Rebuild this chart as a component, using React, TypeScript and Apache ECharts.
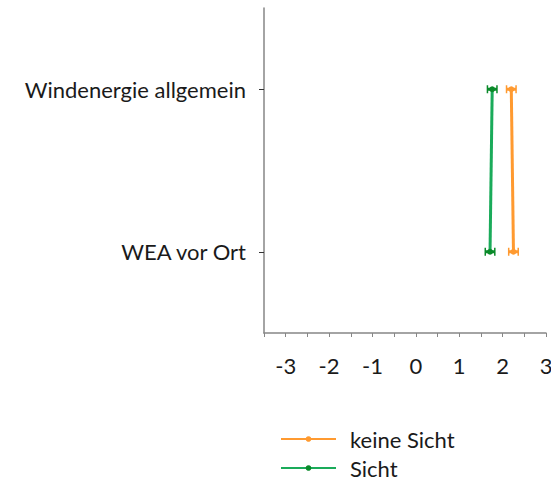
import React, { useEffect, useRef } from "react";
import * as echarts from "echarts";

const categories = ["WEA vor Ort", "Windenergie allgemein"];
const keineSicht = [2.25, 2.2];
const sicht = [1.71, 1.76];
const keineSichtErr = [0.11, 0.11];
const sichtErr = [0.11, 0.11];
const seriesNames = ["keine Sicht", "Sicht"];
const xTicks = { min: -3.5, max: 3, interval: 0.5 };

const FONT = "Lato";
const FS = 22;

function errorSeries(name: string, values: number[], errs: number[], color: string) {
  return {
    type: "custom",
    name,
    z: 5,
    renderItem: (params: any, api: any) => {
      const yi = api.value(0);
      const lo = api.coord([api.value(1), yi]);
      const hi = api.coord([api.value(2), yi]);
      const h = 4;
      const style = { stroke: color, lineWidth: 1.5 };
      return {
        type: "group",
        children: [
          { type: "line", shape: { x1: lo[0], y1: lo[1], x2: hi[0], y2: hi[1] }, style: { ...style, lineWidth: 3 } },
          { type: "line", shape: { x1: lo[0], y1: lo[1] - h, x2: lo[0], y2: lo[1] + h }, style },
          { type: "line", shape: { x1: hi[0], y1: hi[1] - h, x2: hi[0], y2: hi[1] + h }, style },
        ],
      };
    },
    encode: { x: [1, 2], y: 0 },
    data: values.map((v, i) => [i, v - errs[i], v + errs[i]]),
  };
}

export default function App() {
  const ref = useRef<HTMLDivElement>(null);
  useEffect(() => {
    const chart = echarts.init(ref.current!, null, { renderer: "svg" });
    const axisColor = "#868686";
    const legendBase = {
      orient: "vertical",
      left: 275,
      itemWidth: 55,
      itemHeight: 7,
      itemGap: 12,
      textStyle: { fontSize: FS, color: "#1a1a1a", fontFamily: FONT, padding: [0, 0, 0, 9] },
    };
    chart.setOption({
      animation: false,
      textStyle: { fontFamily: FONT },
      grid: { left: 264, top: 8, right: 5, bottom: 151, containLabel: false, outerBoundsMode: "none" },
      xAxis: {
        type: "value",
        min: xTicks.min,
        max: xTicks.max,
        interval: xTicks.interval,
        splitLine: { show: false },
        axisLine: { show: true, onZero: false, lineStyle: { color: axisColor, width: 1.5 } },
        axisTick: { show: true, length: 4, lineStyle: { color: axisColor } },
        axisLabel: {
          margin: 21,
          fontSize: FS,
          color: "#1a1a1a",
          fontFamily: FONT,
          formatter: (v: number) => (Number.isInteger(v) && v >= -3 ? String(v) : ""),
        },
      },
      yAxis: {
        type: "category",
        data: categories,
        axisLine: { show: true, onZero: false, lineStyle: { color: axisColor, width: 1.5 } },
        axisTick: { show: true, alignWithLabel: true, length: 5, lineStyle: { color: "#333" } },
        axisLabel: { margin: 18, fontSize: FS, color: "#1a1a1a", fontFamily: FONT },
        splitLine: { show: false },
      },
      legend: [
        { ...legendBase, data: [seriesNames[0]], top: 423 },
        { ...legendBase, data: [seriesNames[1]], top: 452 },
      ],
      series: [
        {
          name: seriesNames[0],
          type: "line",
          data: keineSicht.map((v, i) => [v, categories[i]]),
          lineStyle: { color: "#ff9a30", width: 3 },
          itemStyle: { color: "#ff9a30" },
          symbol: "circle",
          symbolSize: 6,
          z: 3,
        },
        {
          name: seriesNames[1],
          type: "line",
          data: sicht.map((v, i) => [v, categories[i]]),
          lineStyle: { color: "#1aab5a", width: 3 },
          itemStyle: { color: "#0a8a2a" },
          symbol: "circle",
          symbolSize: 6,
          z: 3,
        },
        errorSeries("errK", keineSicht, keineSichtErr, "#ff9a30"),
        errorSeries("errS", sicht, sichtErr, "#0a8a2a"),
      ],
    });
    return () => chart.dispose();
  }, []);
  return <div ref={ref} style={{ position: "absolute", left: 0, top: 0, width: 551, height: 484 }} />;
}
